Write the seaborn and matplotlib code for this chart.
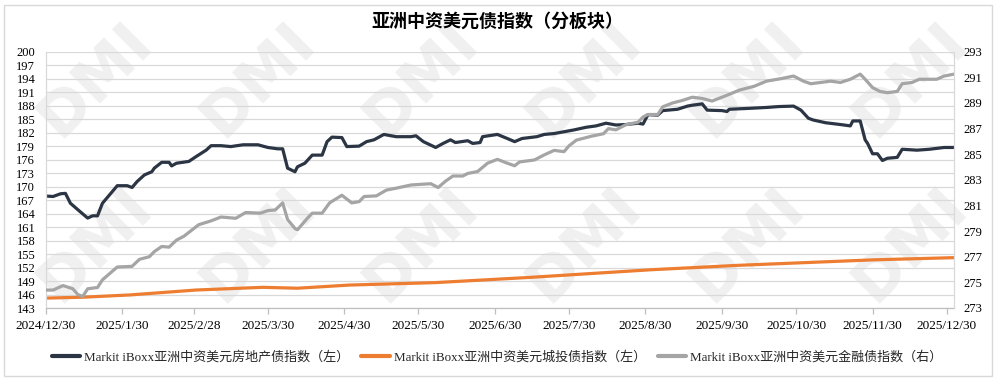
import matplotlib
matplotlib.use('Agg')
import matplotlib.pyplot as plt
import matplotlib.dates as mdates
from matplotlib.patches import Rectangle
from matplotlib.lines import Line2D
import seaborn as sns
import pandas as pd

sns.set_theme(style='white')
plt.rcParams['font.family'] = ['Liberation Serif', 'Noto Sans CJK SC']
plt.rcParams['axes.unicode_minus'] = False

title = '亚洲中资美元债指数（分板块）'
series_names = ['Markit iBoxx亚洲中资美元房地产债指数（左）',
                'Markit iBoxx亚洲中资美元城投债指数（左）',
                'Markit iBoxx亚洲中资美元金融债指数（右）']
series_colors = ['#2b3544', '#ed7d31', '#a5a5a5']

tick_dates = ['2024-12-30', '2025-01-30', '2025-02-28', '2025-03-30', '2025-04-30',
              '2025-05-30', '2025-06-30', '2025-07-30', '2025-08-30', '2025-09-30',
              '2025-10-30', '2025-11-30', '2025-12-30']
tick_labels = ['2024/12/30', '2025/1/30', '2025/2/28', '2025/3/30', '2025/4/30',
               '2025/5/30', '2025/6/30', '2025/7/30', '2025/8/30', '2025/9/30',
               '2025/10/30', '2025/11/30', '2025/12/30']
x_start, x_end = '2024-12-30', '2026-01-02'

left_ticks = list(range(143, 201, 3))
right_ticks = list(range(273, 294, 2))

# 房地产债指数 (left axis)
re_dates = ['2024-12-30', '2025-01-02', '2025-01-05', '2025-01-07', '2025-01-09', '2025-01-13',
            '2025-01-16', '2025-01-18', '2025-01-20', '2025-01-22', '2025-01-28', '2025-02-01',
            '2025-02-03', '2025-02-05', '2025-02-08', '2025-02-11', '2025-02-12', '2025-02-15',
            '2025-02-18', '2025-02-19', '2025-02-21', '2025-02-26', '2025-03-01', '2025-03-05',
            '2025-03-07', '2025-03-11', '2025-03-15', '2025-03-20', '2025-03-26', '2025-03-30',
            '2025-04-03', '2025-04-05', '2025-04-07', '2025-04-10', '2025-04-11', '2025-04-14',
            '2025-04-17', '2025-04-21', '2025-04-23', '2025-04-25', '2025-04-29', '2025-05-01',
            '2025-05-06', '2025-05-09', '2025-05-12', '2025-05-16', '2025-05-21', '2025-05-27',
            '2025-05-29', '2025-06-01', '2025-06-06', '2025-06-09', '2025-06-12', '2025-06-14',
            '2025-06-19', '2025-06-21', '2025-06-24', '2025-06-25', '2025-07-01', '2025-07-05',
            '2025-07-08', '2025-07-11', '2025-07-17', '2025-07-20', '2025-07-24', '2025-07-28',
            '2025-08-01', '2025-08-06', '2025-08-10', '2025-08-14', '2025-08-18', '2025-08-22',
            '2025-08-27', '2025-08-29', '2025-08-31', '2025-09-04', '2025-09-06', '2025-09-12',
            '2025-09-16', '2025-09-18', '2025-09-22', '2025-09-24', '2025-09-30', '2025-10-02',
            '2025-10-03', '2025-10-11', '2025-10-18', '2025-10-23', '2025-10-29', '2025-11-01',
            '2025-11-04', '2025-11-06', '2025-11-11', '2025-11-17', '2025-11-21', '2025-11-22',
            '2025-11-25', '2025-11-27', '2025-11-28', '2025-11-30', '2025-12-02', '2025-12-04',
            '2025-12-06', '2025-12-10', '2025-12-12', '2025-12-18', '2025-12-23', '2025-12-29',
            '2026-01-02']
re_vals = [167.9, 167.8, 168.4, 168.5, 166.3, 164.4,
           163.0, 163.5, 163.5, 166.3, 170.2, 170.2,
           169.8, 171.1, 172.6, 173.3, 174.1, 175.4,
           175.4, 174.6, 175.2, 175.6, 176.7, 178.1,
           179.1, 179.1, 178.9, 179.3, 179.3, 178.7,
           178.4, 178.4, 174.1, 173.3, 174.4, 175.2,
           177.0, 177.0, 180.0, 181.0, 180.9, 178.9,
           179.0, 180.0, 180.4, 181.6, 181.1, 181.1,
           181.3, 180.0, 178.7, 179.6, 180.4, 179.8,
           180.2, 179.6, 179.8, 181.1, 181.6, 180.7,
           180.0, 180.7, 181.1, 181.6, 181.8, 182.2,
           182.6, 183.2, 183.5, 184.1, 183.7, 183.8,
           184.1, 183.9, 186.0, 185.9, 186.9, 187.2,
           187.9, 188.1, 188.4, 187.0, 186.9, 186.7,
           187.2, 187.4, 187.6, 187.8, 187.9, 187.0,
           185.2, 184.8, 184.2, 183.8, 183.5, 184.6,
           184.6, 180.4, 179.6, 177.3, 177.3, 175.8,
           176.3, 176.5, 178.3, 178.1, 178.3, 178.7,
           178.7]

# 城投债指数 (left axis)
lgfv_dates = ['2024-12-30', '2025-01-14', '2025-02-02', '2025-03-01', '2025-03-28', '2025-04-11',
              '2025-05-02', '2025-06-06', '2025-07-14', '2025-09-01', '2025-10-07', '2025-11-30',
              '2026-01-02']
lgfv_vals = [145.2, 145.4, 145.9, 147.0, 147.6, 147.4,
             148.1, 148.65, 149.8, 151.5, 152.5, 153.7,
             154.2]

# 金融债指数 (right axis)
fin_dates = ['2024-12-30', '2025-01-02', '2025-01-06', '2025-01-10', '2025-01-12', '2025-01-14',
             '2025-01-16', '2025-01-20', '2025-01-22', '2025-01-28', '2025-02-03', '2025-02-06',
             '2025-02-10', '2025-02-12', '2025-02-15', '2025-02-18', '2025-02-21', '2025-02-24',
             '2025-03-02', '2025-03-07', '2025-03-11', '2025-03-17', '2025-03-21', '2025-03-27',
             '2025-03-30', '2025-04-02', '2025-04-05', '2025-04-07', '2025-04-10', '2025-04-11',
             '2025-04-15', '2025-04-17', '2025-04-21', '2025-04-24', '2025-04-29', '2025-05-03',
             '2025-05-06', '2025-05-08', '2025-05-13', '2025-05-17', '2025-05-21', '2025-05-27',
             '2025-06-04', '2025-06-07', '2025-06-10', '2025-06-13', '2025-06-17', '2025-06-19',
             '2025-06-23', '2025-06-27', '2025-07-01', '2025-07-05', '2025-07-08', '2025-07-10',
             '2025-07-16', '2025-07-20', '2025-07-24', '2025-07-28', '2025-07-30', '2025-08-02',
             '2025-08-08', '2025-08-13', '2025-08-15', '2025-08-18', '2025-08-22', '2025-08-27',
             '2025-08-29', '2025-08-31', '2025-09-04', '2025-09-06', '2025-09-10', '2025-09-14',
             '2025-09-18', '2025-09-22', '2025-09-26', '2025-10-02', '2025-10-07', '2025-10-13',
             '2025-10-18', '2025-10-24', '2025-10-29', '2025-11-02', '2025-11-05', '2025-11-09',
             '2025-11-13', '2025-11-17', '2025-11-21', '2025-11-25', '2025-11-27', '2025-11-30',
             '2025-12-03', '2025-12-06', '2025-12-10', '2025-12-12', '2025-12-16', '2025-12-19',
             '2025-12-26', '2025-12-29', '2026-01-02']
fin_vals = [274.4, 274.4, 274.75, 274.5, 274.05, 273.9,
            274.5, 274.6, 275.2, 276.2, 276.25, 276.8,
            277.0, 277.4, 277.8, 277.75, 278.3, 278.6,
            279.5, 279.8, 280.1, 280.0, 280.45, 280.4,
            280.6, 280.65, 281.2, 279.9, 279.2, 279.1,
            280.0, 280.4, 280.4, 281.2, 281.8, 281.2,
            281.3, 281.7, 281.75, 282.2, 282.35, 282.6,
            282.7, 282.4, 282.9, 283.3, 283.3, 283.5,
            283.65, 284.3, 284.6, 284.3, 284.1, 284.4,
            284.55, 284.95, 285.3, 285.2, 285.65, 286.1,
            286.4, 286.6, 287.0, 286.9, 287.3, 287.5,
            287.9, 288.1, 288.1, 288.7, 289.0, 289.2,
            289.45, 289.35, 289.15, 289.6, 290.0, 290.3,
            290.7, 290.9, 291.1, 290.7, 290.5, 290.6,
            290.7, 290.6, 290.85, 291.25, 290.85, 290.2,
            289.9, 289.8, 289.9, 290.5, 290.6, 290.85,
            290.85, 291.1, 291.25]

W, H = 998, 381
fig = plt.figure(figsize=(W / 100, H / 100), dpi=100)
fig.patch.set_facecolor('white')

# watermarks
for wy in [80, 245]:
    for k in range(6):
        wx = 95 + 163 * k
        fig.text(wx / W, 1 - wy / H, 'DMI', rotation=45, fontsize=44, fontweight='bold',
                 color='#f0f0f0', ha='center', va='center', family='DejaVu Sans', zorder=-5)

# outer border
fig.patches.append(Rectangle((4 / W, 5 / H), (992 - 4) / W, (376 - 5) / H,
                             transform=fig.transFigure, fill=False,
                             edgecolor='#d9d9d9', lw=1.0))

left, right, top, bottom = 45.7, 954, 51.7, 308
ax = fig.add_axes([left / W, 1 - bottom / H, (right - left) / W, (bottom - top) / H])
ax.set_facecolor('none')
ax2 = ax.twinx()
ax2.set_facecolor('none')

df_re = pd.DataFrame({'date': pd.to_datetime(re_dates), 'value': re_vals})
df_lgfv = pd.DataFrame({'date': pd.to_datetime(lgfv_dates), 'value': lgfv_vals})
df_fin = pd.DataFrame({'date': pd.to_datetime(fin_dates), 'value': fin_vals})

lw = 2.3
sns.lineplot(data=df_lgfv, x='date', y='value', ax=ax, color=series_colors[1], lw=lw)
sns.lineplot(data=df_re, x='date', y='value', ax=ax, color=series_colors[0], lw=lw)
sns.lineplot(data=df_fin, x='date', y='value', ax=ax2, color=series_colors[2], lw=lw)

for a in (ax, ax2):
    a.set_xlabel('')
    a.set_ylabel('')
    a.set_xlim(pd.Timestamp(x_start), pd.Timestamp(x_end))

ax.set_ylim(143, 200)
ax.set_yticks(left_ticks)
ax.set_yticklabels([str(t) for t in left_ticks])
ax2.set_ylim(273, 293)
ax2.set_yticks(right_ticks)
ax2.set_yticklabels([str(t) for t in right_ticks])

ax.set_xticks(pd.to_datetime(tick_dates))
ax.set_xticklabels(tick_labels)

ax.grid(axis='y', color='#d9d9d9', lw=0.9)
ax.grid(axis='x', visible=False)
ax2.grid(False)

for a in (ax, ax2):
    for s in a.spines.values():
        s.set_visible(False)
ax.spines['bottom'].set_visible(True)
ax.spines['bottom'].set_color('#bfbfbf')
ax.spines['bottom'].set_linewidth(0.9)
ax.spines['left'].set_visible(True)
ax.spines['left'].set_color('#d9d9d9')
ax.spines['left'].set_linewidth(0.9)
ax2.spines['right'].set_visible(True)
ax2.spines['right'].set_color('#d9d9d9')
ax2.spines['right'].set_linewidth(0.9)

ax.tick_params(axis='x', which='both', direction='out', length=4, width=0.9,
               color='#bfbfbf', pad=4.5, labelsize=9.5, labelcolor='black', bottom=True)
ax.tick_params(axis='y', length=0, pad=7.5, labelsize=9, labelcolor='black')
ax2.tick_params(axis='y', length=0, pad=6.5, labelsize=9, labelcolor='black')

fig.text(497 / W, 1 - 22 / H, title, ha='center', va='center', fontsize=13,
         fontweight='bold', color='black')

handles = [Line2D([0], [0], color=c, lw=3) for c in series_colors]
fig.legend(handles, series_names, loc='center', bbox_to_anchor=(497 / W, 1 - 357 / H),
           ncol=3, frameon=False, fontsize=9.4, handlelength=2.2, handletextpad=0.3,
           columnspacing=0.9, borderaxespad=0)

fig.savefig('out.png', dpi=100)
